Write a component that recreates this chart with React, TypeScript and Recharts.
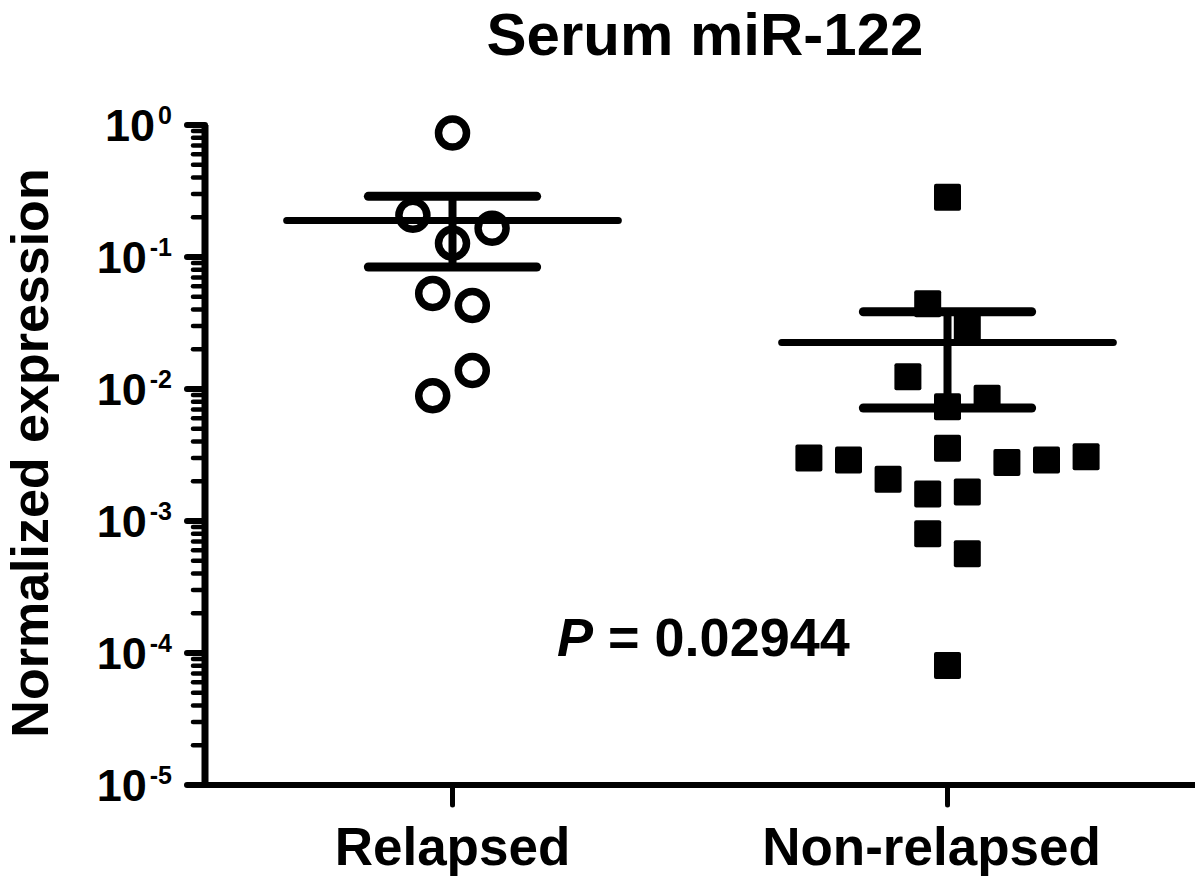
import React from 'react';
import { ScatterChart, Scatter, XAxis, YAxis, ReferenceLine } from 'recharts';

// ---- Data ----
const categories = ['Relapsed', 'Non-relapsed'];
const categoryPositions = [1, 2];

const relapsedValues = [0.87, 0.207, 0.165, 0.127, 0.053, 0.043, 0.0138, 0.0089];
const relapsedJitter = [0, -0.08, 0.08, 0, -0.04, 0.04, 0.04, -0.04];

const nonRelapsedValues = [
  0.284, 0.0443, 0.0292, 0.0124, 0.0085, 0.00735, 0.00355, 0.003, 0.0029,
  0.00207, 0.0016, 0.00166, 0.00277, 0.0029, 0.00307, 0.0008, 0.000565, 0.0000804,
];
const nonRelapsedJitter = [
  0, -0.04, 0.04, -0.08, 0.08, 0, 0, -0.28, -0.2, -0.12, -0.04, 0.04, 0.12, 0.2, 0.28, -0.04, 0.04, 0,
];

const groupMeans = [0.189, 0.0225];
const semUpper = [0.288, 0.0385];
const semLower = [0.084, 0.00718];

const majorTicks = [1e-5, 1e-4, 1e-3, 1e-2, 1e-1, 1];
const tickExponents = ['-5', '-4', '-3', '-2', '-1', '0'];
const minorMultipliers = [2, 3, 4, 5, 6, 7, 8, 9];

const titleText = 'Serum miR-122';
const yLabelText = 'Normalized expression';
const pValueText = '0.02944';

// ---- Derived tables ----
const relapsedData = relapsedValues.map((v, i) => ({ x: categoryPositions[0] + relapsedJitter[i], y: v }));
const nonRelapsedData = nonRelapsedValues.map((v, i) => ({ x: categoryPositions[1] + nonRelapsedJitter[i], y: v }));
const allTicks: number[] = [];
majorTicks.forEach((t, i) => {
  allTicks.push(t);
  if (i < majorTicks.length - 1) minorMultipliers.forEach((m) => allTicks.push(t * m));
});

// ---- Styles ----
const FONT = '"Liberation Sans", Arial, Helvetica, sans-serif';
const MEAN_HALF = 0.335;
const CAP_HALF = 0.17;
const LABEL_DX = [0, -16];

const OpenCircle = (props: any) => (
  <circle cx={props.cx} cy={props.cy} r={14} fill="none" stroke="#000" strokeWidth={7.5} />
);
const FilledSquare = (props: any) => (
  <rect x={props.cx - 13.5} y={props.cy - 13.5} width={27} height={27} rx={2} fill="#000" />
);

const isMajorIdx = (v: number) =>
  majorTicks.findIndex((t) => Math.abs(Math.log10(t) - Math.log10(v)) < 1e-6);

const YTick = (props: any) => {
  const { x, y, payload } = props;
  const idx = isMajorIdx(payload.value);
  const major = idx >= 0;
  return (
    <g>
      <line
        x1={x}
        x2={x - (major ? 18 : 12)}
        y1={y}
        y2={y}
        stroke="#000"
        strokeWidth={major ? 6 : 4.5}
        strokeLinecap="round"
      />
      {major && (
        <text
          x={x - 33}
          y={y + 16}
          textAnchor="end"
          fontFamily={FONT}
          fontWeight="bold"
          fontSize={45}
          fill="#000"
        >
          <tspan>10</tspan>
          <tspan dx={3} dy={-17} fontSize={25}>
            {tickExponents[idx]}
          </tspan>
        </text>
      )}
    </g>
  );
};

const XTick = (props: any) => {
  const { x, y, payload } = props;
  const idx = categoryPositions.indexOf(payload.value);
  return (
    <g>
      <line x1={x} x2={x} y1={y} y2={y + 20} stroke="#000" strokeWidth={5} strokeLinecap="round" />
      <text
        x={x + (LABEL_DX[idx] || 0)}
        y={y + 80}
        textAnchor="middle"
        fontFamily={FONT}
        fontWeight="bold"
        fontSize={53}
        fill="#000"
      >
        {categories[idx]}
      </text>
    </g>
  );
};

export default function App() {
  return (
    <div style={{ position: 'absolute', left: 0, top: 0, width: 1200, height: 878, background: '#fff' }}>
      <ScatterChart width={1200} height={878} margin={{ top: 125, right: 5, bottom: 0, left: 0 }}>
        <XAxis
          type="number"
          dataKey="x"
          domain={[0.5, 2.5]}
          ticks={categoryPositions}
          interval={0}
          height={93}
          tick={<XTick />}
          tickLine={false}
          tickSize={0}
          tickMargin={0}
          axisLine={{ stroke: '#000', strokeWidth: 6 }}
        />
        <YAxis
          type="number"
          dataKey="y"
          scale="log"
          domain={[1e-5, 1]}
          ticks={allTicks}
          interval={0}
          width={205}
          tick={<YTick />}
          tickLine={false}
          tickSize={0}
          tickMargin={0}
          axisLine={{ stroke: '#000', strokeWidth: 7 }}
        />
        {categoryPositions.map((c, i) => (
          <ReferenceLine
            key={'mean' + i}
            segment={[
              { x: c - MEAN_HALF, y: groupMeans[i] },
              { x: c + MEAN_HALF, y: groupMeans[i] },
            ]}
            stroke="#000"
            strokeWidth={7}
            strokeLinecap="round"
            ifOverflow="visible"
          />
        ))}
        {categoryPositions.map((c, i) => (
          <ReferenceLine
            key={'vert' + i}
            segment={[
              { x: c, y: semLower[i] },
              { x: c, y: semUpper[i] },
            ]}
            stroke="#000"
            strokeWidth={8}
            ifOverflow="visible"
          />
        ))}
        {categoryPositions.map((c, i) => (
          <ReferenceLine
            key={'capU' + i}
            segment={[
              { x: c - CAP_HALF, y: semUpper[i] },
              { x: c + CAP_HALF, y: semUpper[i] },
            ]}
            stroke="#000"
            strokeWidth={9}
            strokeLinecap="round"
            ifOverflow="visible"
          />
        ))}
        {categoryPositions.map((c, i) => (
          <ReferenceLine
            key={'capL' + i}
            segment={[
              { x: c - CAP_HALF, y: semLower[i] },
              { x: c + CAP_HALF, y: semLower[i] },
            ]}
            stroke="#000"
            strokeWidth={9}
            strokeLinecap="round"
            ifOverflow="visible"
          />
        ))}
        <Scatter name={categories[0]} data={relapsedData} shape={OpenCircle} isAnimationActive={false} />
        <Scatter name={categories[1]} data={nonRelapsedData} shape={FilledSquare} isAnimationActive={false} />
      </ScatterChart>
      <svg
        width={1200}
        height={878}
        style={{ position: 'absolute', left: 0, top: 0, pointerEvents: 'none' }}
      >
        <text x={705} y={55} textAnchor="middle" fontFamily={FONT} fontWeight="bold" fontSize={60} fill="#000">
          {titleText}
        </text>
        <text
          x={48}
          y={453}
          transform="rotate(-90 48 453)"
          textAnchor="middle"
          fontFamily={FONT}
          fontWeight="bold"
          fontSize={52}
          fill="#000"
        >
          {yLabelText}
        </text>
        <text x={557} y={656} fontFamily={FONT} fontWeight="bold" fontSize={54} fill="#000">
          <tspan fontStyle="italic">P</tspan>
          <tspan>{' = ' + pValueText}</tspan>
        </text>
      </svg>
    </div>
  );
}
